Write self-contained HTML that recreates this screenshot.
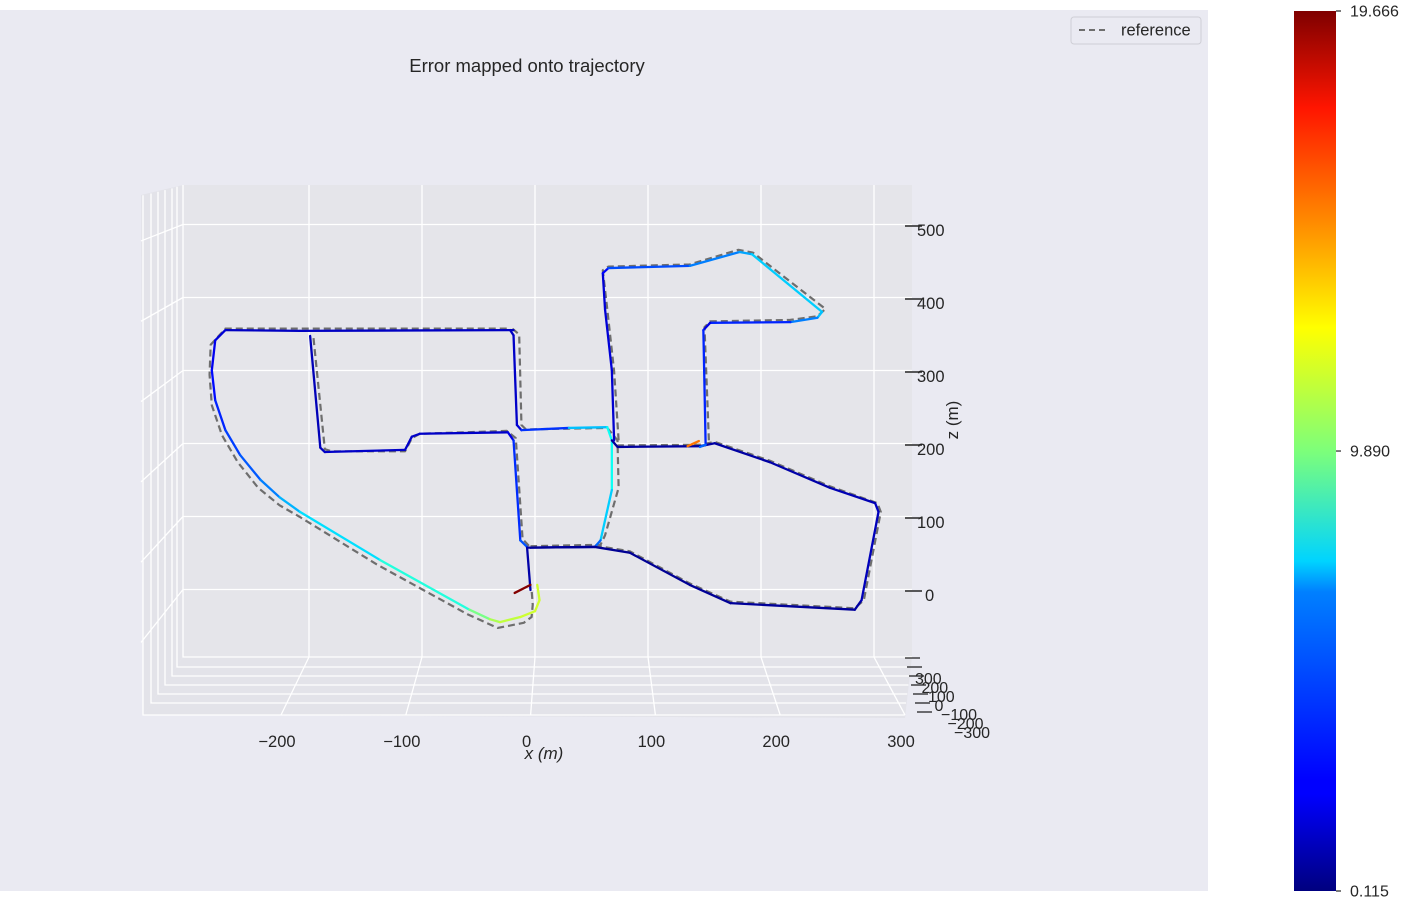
<!DOCTYPE html>
<html><head><meta charset="utf-8"><style>
html,body{margin:0;padding:0;background:#fff;}
svg{display:block;font-family:"Liberation Sans","DejaVu Sans",sans-serif;}
</style></head><body>
<svg id="chart" width="1419" height="906" viewBox="0 0 1419 906" xmlns="http://www.w3.org/2000/svg">
<defs>
<linearGradient id="jet" x1="0" y1="1" x2="0" y2="0">
<stop offset="0" stop-color="#00007f"/><stop offset="0.11" stop-color="#0000ff"/><stop offset="0.125" stop-color="#0000ff"/>
<stop offset="0.34" stop-color="#0080ff"/><stop offset="0.375" stop-color="#00d4ff"/><stop offset="0.5" stop-color="#7dff7a"/>
<stop offset="0.64" stop-color="#ffff00"/><stop offset="0.75" stop-color="#ff9400"/><stop offset="0.89" stop-color="#ff1500"/><stop offset="1" stop-color="#7f0000"/>
</linearGradient>
</defs>
<rect x="0" y="10" width="1208" height="881" fill="#eaeaf2"/>
<g id="panes"></g>
<g id="grid"></g>
<g id="ref"></g>
<g id="est"></g>
<g id="axes"></g>
<text x="527" y="72" font-size="18.5" text-anchor="middle" fill="#262626">Error mapped onto trajectory</text>
<g>
<rect x="1071" y="17" width="130" height="27" rx="3" fill="#eaeaf2" stroke="#cfcfd6"/>
<line x1="1079" y1="30" x2="1109" y2="30" stroke="#6e6e6e" stroke-width="2" stroke-dasharray="6 4"/>
<text x="1121" y="35.5" font-size="16.5" fill="#262626">reference</text>
</g>
<g>
<rect x="1294" y="11" width="42" height="880" fill="url(#jet)"/>
<g id="cbticks"></g>
</g>
</svg>
<script>
// data (meters): [x, z, error]
const zTicks=[0,100,200,300,400,500];
const xTicks=[-200,-100,0,100,200,300];
const depthTicks=["300","200","100","0","\u2212100","\u2212200","\u2212300"];
const cbTicks=[0.115,9.890,19.666];
const errMin=0.115, errMax=19.666;
const est1=[[-19,356,1.5],[-208,355,1.3],[-274,356,1.5],[-283,342,2],[-286,301,2.5],[-283,260,3],[-274,219,3.5],[-261,185,4],[-243,151,4.5],[-226,127,5.5],[-208,107,6.5],[-137,41,7.2],[-58,-27,9],[-40,-40,10.5],[-31,-44,11],[-13,-37,11.3],[0,-29,11.5],[4,-14,11.5],[2,7,11.3]];
const est2=[[-199,348,1.2],[-190,195,1.2],[-186,189,1.5],[-115,192,1.5],[-109,210,1.5],[-102,214,1.5],[-24,216,1.5],[-19,205,2.5],[-13,68,4.3],[-7,59,4]];
const est3=[[-22,356,1.3],[-19,349,1.5],[-16,226,1.5],[-12,219,2],[30,222,5],[64,223,7.5],[68,205,7.8],[68,137,7.5],[58,68,5.5],[53,59,3.5],[-4,58,0.6],[-7,58,0.6]];
const est4=[[-7,58,0.8],[-4,0,1]];
const est5=[[-4,58,0.5],[53,59,0.5],[84,51,0.5],[137,7,0.5],[173,-18,0.6],[283,-27,0.6],[289,-14,1],[304,107,1.5],[301,119,1.2],[261,140,1],[208,175,0.8],[159,201,0.8],[146,197,0.8],[73,196,0.6],[68,205,0.6]];
const est6=[[70,205,1.5],[68,301,1.8],[62,384,1.8],[60,434,1.8],[65,441,3.5],[137,444,4.5],[181,463,5.5],[192,460,6],[254,381,7],[250,373,5.5],[226,367,4.5],[155,366,2],[149,356,2],[151,199,4.5],[146,196,4.5]];
const est7=[[-18,-4,19.6],[-4,7,19.6]];
const est8=[[135,197,15],[145,204,15]];
const ref1=[[-25,358],[-274,358],[-287,336],[-288,295],[-286,253],[-277,212],[-263,175],[-245,140],[-226,116],[-208,100],[-140,35],[-60,-33],[-33,-52],[-10,-45],[-3,-37],[-2,-20],[-3,0]];
const ref2=[[-196,345],[-186,193],[-180,190],[-115,190],[-109,208],[-102,214],[-25,218],[-17,208],[-11,70],[-4,58]];
const ref3=[[-20,358],[-14,350],[-12,226],[-8,220],[64,222],[73,205],[74,140],[62,75],[58,62],[-4,60]];
const ref5=[[53,61],[84,53],[137,9],[173,-16],[283,-25],[291,-14],[306,107],[303,119],[261,142],[208,177],[159,203],[146,199],[73,198]];
const ref6=[[74,205],[70,300],[64,384],[60,438],[65,443],[137,446],[180,466],[193,462],[257,385],[250,375],[226,370],[155,368],[150,360],[154,200],[146,196]];
const estSeries=[est1,est2,est3,est4,est5,est6,est7,est8];
const refSeries=[ref1,ref2,ref3,ref5,ref6];

const NS="http://www.w3.org/2000/svg";
function X(x){return 535+1.13*x;}
function Z(z){return 590-0.73*z;}
function mk(tag,attrs,parent){const e=document.createElementNS(NS,tag);for(const k in attrs)e.setAttribute(k,attrs[k]);parent.appendChild(e);return e;}
function jet(t){t=Math.max(0,Math.min(1,t));
 const r=Math.min(1,Math.max(0,Math.min(4*t-1.5,-4*t+4.5)));
 const g=Math.min(1,Math.max(0,Math.min(4*t-0.5,-4*t+3.5)));
 const b=Math.min(1,Math.max(0,Math.min(4*t+0.5,-4*t+2.5)));
 return `rgb(${Math.round(r*255)},${Math.round(g*255)},${Math.round(b*255)})`;}

const panes=document.getElementById('panes');
let p=mk('polygon',{points:"141,195 183,185 183,657 143,715",fill:"#e3e3e9"},panes);

p=mk('polygon',{points:"183,657 912,657 905,718 143,715",fill:"#e3e3e9"},panes);

p=mk('rect',{x:183,y:185,width:729,height:472,fill:"#e5e5ea"},panes);


const grid=document.getElementById('grid');
const gs={stroke:"#fff","stroke-width":1.3};
xTicks.forEach((v,i)=>{
 let l=mk('line',Object.assign({x1:X(v),y1:185,x2:X(v),y2:657},gs),grid);
 
 const fx=281+(v+200)*1.248;
 l=mk('line',Object.assign({x1:X(v),y1:657,x2:fx,y2:715},gs),grid);
 
});
zTicks.forEach(v=>{
 const y=Z(v)-0.5;
 let l=mk('line',Object.assign({x1:183,y1:y,x2:912,y2:y},gs),grid);
 
 l=mk('line',Object.assign({x1:183,y1:y,x2:141,y2:y+53-(590-y)*0.1},gs),grid);
 
});
const dx=[183,177,172,165,158,151,143], dy=[657,667,676,685,694,703,715];
dx.forEach((x,i)=>{
 const l=mk('polyline',Object.assign({points:`${x},${185+i*1.7} ${x},${dy[i]} ${912-i*1.2},${dy[i]}`,fill:"none"},gs),grid);
 
});

const refG=document.getElementById('ref');
refSeries.forEach(s=>{
 const l=mk('polyline',{points:s.map(q=>X(q[0])+','+Z(q[1])).join(' '),fill:"none",stroke:"#6e6e6e","stroke-width":2.2,"stroke-dasharray":"7 4","stroke-linejoin":"round"},refG);
 
});
const estG=document.getElementById('est');
estSeries.forEach(s=>{
 for(let i=0;i<s.length-1;i++){
  const a=s[i],b=s[i+1];
  const c=jet(((a[2]+b[2])/2-errMin)/(errMax-errMin));
  const l=mk('line',{x1:X(a[0]),y1:Z(a[1]),x2:X(b[0]),y2:Z(b[1]),stroke:c,"stroke-width":2.3,"stroke-linecap":"round"},estG);
  
 }
});

const axes=document.getElementById('axes');
xTicks.forEach(v=>{
 const fx=281+(v+200)*1.248;
 const t=mk('text',{x:fx-4,y:747,"font-size":16.5,"text-anchor":"middle",fill:"#262626"},axes);
 t.textContent=(v<0?'\u2212':'')+Math.abs(v);
 
});
let t=mk('text',{x:544,y:759,"font-size":17,"text-anchor":"middle",fill:"#262626","font-style":"italic"},axes);
t.textContent='x (m)';
zTicks.forEach(v=>{
 const y=Z(v)+1;
 let l=mk('line',{x1:905,y1:y,x2:922,y2:y,stroke:"#262626","stroke-width":1.5},axes);
 
 const tt=mk('text',{x:v==0?925:917,y:y+10,"font-size":16.5,fill:"#262626"},axes);
 tt.textContent=String(v);
});
t=mk('text',{x:958,y:420,"font-size":17,"text-anchor":"middle",fill:"#262626",transform:"rotate(-90 958 420)"},axes);
t.textContent='z (m)';
depthTicks.forEach((s,i)=>{
 let l=mk('line',{x1:905+i*2,y1:658+i*9,x2:920+i*2,y2:658+i*9,stroke:"#262626","stroke-width":1.3},axes);
 
 const tt=mk('text',{x:915+i*6.5,y:684+i*9,"font-size":16,fill:"#262626"},axes);
 tt.textContent=s;
});

const cb=document.getElementById('cbticks');
cbTicks.forEach(v=>{
 const y=891-(v-errMin)/(errMax-errMin)*880;
 let l=mk('line',{x1:1336,y1:y,x2:1341,y2:y,stroke:"#262626","stroke-width":1.2},cb);
 
 const tt=mk('text',{x:1350,y:y+5.5,"font-size":16,fill:"#262626"},cb);
 tt.textContent=v.toFixed(3);
});
</script>
</body></html>
